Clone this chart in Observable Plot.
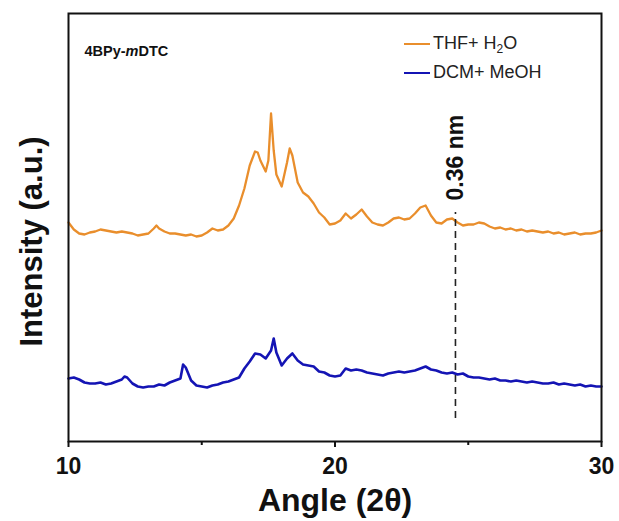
<!DOCTYPE html>
<html>
<head>
<meta charset="utf-8">
<script src="https://cdn.jsdelivr.net/npm/d3@7"></script>
<script src="https://cdn.jsdelivr.net/npm/@observablehq/plot@0.6"></script>
<style>
  body { margin: 0; background: #fff; }
  #wrap { position: relative; width: 619px; height: 521px; font-family: "Liberation Sans", Arial, sans-serif; }
  #legend { position: absolute; left: 404px; top: 29px; font-size: 18px; color: #222; line-height: 29px; }
  .row { display: flex; align-items: center; white-space: nowrap; }
  .sw { display: inline-block; width: 26px; height: 2px; margin-right: 3px; }
  sub { font-size: 12px; vertical-align: -4px; line-height: 0; }
</style>
</head>
<body>
<div id="wrap"><div id="legend"></div></div>
<script>
// Series 1: THF + H2O (orange)
const angleTHF = [10.0,10.2,10.4,10.6,10.8,11.0,11.2,11.4,11.6,11.8,12.0,12.2,12.4,12.6,12.8,13.0,13.2,13.3,13.4,13.6,13.8,14.0,14.2,14.4,14.6,14.8,15.0,15.2,15.4,15.6,15.8,16.0,16.2,16.4,16.6,16.8,17.0,17.1,17.2,17.4,17.5,17.6,17.7,17.8,18.0,18.2,18.3,18.4,18.6,18.8,19.0,19.2,19.4,19.6,19.8,20.0,20.2,20.4,20.6,20.8,21.0,21.2,21.4,21.6,21.8,22.0,22.2,22.4,22.6,22.8,23.0,23.2,23.4,23.6,23.8,24.0,24.2,24.4,24.6,24.8,25.0,25.2,25.4,25.6,25.8,26.0,26.2,26.4,26.6,26.8,27.0,27.2,27.4,27.6,27.8,28.0,28.2,28.4,28.6,28.8,29.0,29.2,29.4,29.6,29.8,30.0];
const intensityTHF = [216,209,205,204,206,207,209,208,207,206,207,206,205,203,204,205,210,213,210,207,205,205,204,203,204,202,203,206,210,208,209,213,220,233,250,273,287,286,278,267,278,325,288,264,252,276,290,283,256,246,242,235,226,221,214,215,218,225,220,224,229,222,216,214,213,216,220,221,219,220,225,231,233,223,216,215,219,220,216,213,214,214,216,215,212,210,211,209,210,208,209,207,208,207,206,207,205,206,204,205,206,204,205,205,206,208];

// Series 2: DCM + MeOH (blue)
const angleDCM = [10.0,10.2,10.4,10.6,10.8,11.0,11.2,11.4,11.6,11.8,12.0,12.1,12.2,12.4,12.6,12.8,13.0,13.2,13.4,13.6,13.8,14.0,14.2,14.3,14.4,14.6,14.8,15.0,15.2,15.4,15.6,15.8,16.0,16.2,16.4,16.6,16.8,17.0,17.2,17.4,17.6,17.7,17.8,18.0,18.2,18.4,18.6,18.8,19.0,19.2,19.4,19.6,19.8,20.0,20.2,20.4,20.6,20.8,21.0,21.2,21.4,21.6,21.8,22.0,22.2,22.4,22.6,22.8,23.0,23.2,23.4,23.6,23.8,24.0,24.2,24.4,24.6,24.8,25.0,25.2,25.4,25.6,25.8,26.0,26.2,26.4,26.6,26.8,27.0,27.2,27.4,27.6,27.8,28.0,28.2,28.4,28.6,28.8,29.0,29.2,29.4,29.6,29.8,30.0];
const intensityDCM = [60,61,59,56,55,55,56,54,55,57,59,62,61,55,52,51,52,52,54,53,56,58,60,74,71,58,53,52,51,53,54,56,57,59,61,70,77,85,84,80,88,100,86,73,80,85,78,74,73,72,67,66,63,62,63,70,68,69,68,66,65,64,63,65,66,67,66,67,68,70,72,69,68,66,65,66,64,65,62,61,61,60,59,60,58,58,57,58,57,56,57,56,55,55,56,54,55,54,53,54,52,53,52,52];

const seriesNames = ["THF+ H2O", "DCM+ MeOH"];
const seriesColors = ["#E98E2C", "#1414B4"];
const xTicksMajor = [10, 20, 30];
const xTicksMinor = [15, 25];
const markerAngle = [24.52];
const markerSpan = [20, 226];
const markerLabelPos = [238];
const markerLabel = "0.36 nm";
const sampleLabel = "4BPy-mDTC";

const thf = angleTHF.map((a, i) => ({angle: a, intensity: intensityTHF[i]}));
const dcm = angleDCM.map((a, i) => ({angle: a, intensity: intensityDCM[i]}));

const chart = Plot.plot({
  width: 619,
  height: 521,
  marginLeft: 68,
  marginRight: 18,
  marginTop: 13,
  marginBottom: 80,
  style: {fontFamily: '"Liberation Sans", Arial, sans-serif', background: "#fff", color: "#111"},
  x: {domain: [10, 30]},
  y: {domain: [-3, 425], axis: null},
  marks: [
    Plot.line(dcm, {x: "angle", y: "intensity", stroke: seriesColors[1], strokeWidth: 2.6}),
    Plot.line(thf, {x: "angle", y: "intensity", stroke: seriesColors[0], strokeWidth: 2.3}),
    Plot.ruleX(markerAngle, {y1: markerSpan[0], y2: markerSpan[1], stroke: "#222", strokeWidth: 1.6, strokeDasharray: "7,5"}),
    Plot.text(markerAngle, {x: d => d, y: () => markerLabelPos[0], text: () => markerLabel, rotate: -90, textAnchor: "start", fontSize: 23, fontWeight: "bold", fill: "#111"}),
    Plot.text([sampleLabel], {frameAnchor: "top-left", dx: 16, dy: 32, textAnchor: "start", fontSize: 14.5, fontWeight: "bold", fill: "#111"}),
    Plot.frame({stroke: "#111", strokeWidth: 2}),
    Plot.axisX(xTicksMajor, {tickSize: 6, tickPadding: 10, strokeWidth: 2, fontSize: 23, fontWeight: "bold", label: null}),
    Plot.axisX(xTicksMinor, {tickSize: 4, strokeWidth: 2, tickFormat: () => "", label: null}),
    Plot.text(["Angle (2θ)"], {frameAnchor: "bottom", dy: 69, fontSize: 32, fontWeight: "bold", fill: "#111"}),
    Plot.text(["Intensity (a.u.)"], {frameAnchor: "left", textAnchor: "middle", dx: -36, dy: 14, rotate: -90, fontSize: 31, fontWeight: "bold", fill: "#111"})
  ]
});

// italic "m" in the sample label
d3.select(chart).selectAll("text").filter(function() { return this.textContent === sampleLabel; })
  .each(function() {
    const t = d3.select(this);
    t.text(null);
    t.append("tspan").text("4BPy-");
    t.append("tspan").attr("font-style", "italic").text("m");
    t.append("tspan").text("DTC");
  });

const wrap = document.getElementById("wrap");
wrap.insertBefore(chart, wrap.firstChild);

const legend = d3.select("#legend");
seriesNames.forEach((name, i) => {
  const row = legend.append("div").attr("class", "row");
  row.append("span").attr("class", "sw").style("background", seriesColors[i]);
  const lab = row.append("span");
  if (name.includes("H2O")) {
    lab.html(name.replace("H2O", "H<sub>2</sub>O"));
  } else {
    lab.text(name);
  }
});
</script>
</body>
</html>
